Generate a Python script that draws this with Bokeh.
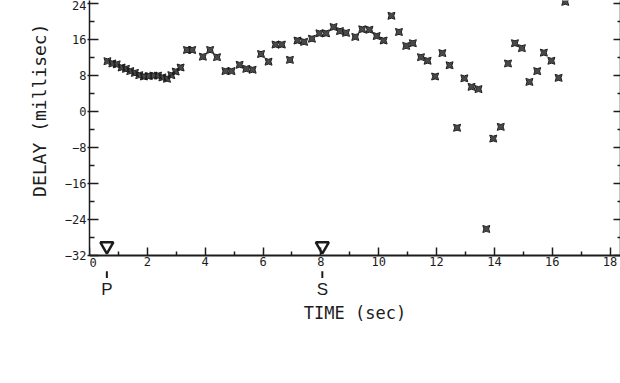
from bokeh.plotting import figure
from bokeh.models import LinearAxis, FixedTicker, Range1d, Title
from bokeh.core.properties import value
from bokeh.embed import file_html
from bokeh.resources import INLINE

# ---- data ----
time_sec = [0.62, 0.79, 0.94, 1.11, 1.26, 1.41, 1.57, 1.72, 1.88, 2.05,
            2.21, 2.37, 2.52, 2.68, 2.83, 2.98, 3.15, 3.37, 3.55, 3.92,
            4.17, 4.41, 4.70, 4.91, 5.19, 5.42, 5.64, 5.93, 6.19, 6.43,
            6.65, 6.93, 7.19, 7.42, 7.69, 7.95, 8.18, 8.44, 8.66, 8.87,
            9.19, 9.43, 9.68, 9.93, 10.17, 10.44, 10.70, 10.95, 11.18, 11.46,
            11.69, 11.95, 12.20, 12.45, 12.71, 12.96, 13.21, 13.45, 13.72, 13.96,
            14.22, 14.47, 14.71, 14.95, 15.21, 15.48, 15.71, 15.97, 16.22, 16.45]
delay_ms = [11.1, 10.6, 10.4, 9.7, 9.4, 8.9, 8.5, 8.0, 7.7, 7.8,
            7.9, 7.9, 7.5, 7.2, 8.0, 8.8, 9.7, 13.6, 13.6, 12.1,
            13.6, 12.0, 8.9, 8.9, 10.3, 9.4, 9.2, 12.7, 11.0, 14.8,
            14.8, 11.4, 15.7, 15.4, 16.1, 17.3, 17.3, 18.7, 17.8, 17.4,
            16.5, 18.2, 18.1, 16.7, 15.7, 21.2, 17.6, 14.5, 15.1, 12.0,
            11.2, 7.7, 12.9, 10.2, -3.7, 7.3, 5.4, 4.9, -26.2, -6.1,
            -3.5, 10.6, 15.1, 14.0, 6.5, 8.9, 13.0, 11.2, 7.4, 24.3]

phase_times = [0.6, 8.05]
phase_names = ["P", "S"]

x_major = [0, 2, 4, 6, 8, 10, 12, 14, 16, 18]
x_minor = [1, 3, 5, 7, 9, 11, 13, 15, 17]
y_major = [-32, -24, -16, -8, 0, 8, 16, 24]
y_minor = [-28, -20, -12, -4, 4, 12, 20]

INK = "#1c1c1c"
MONO = "DejaVu Sans Mono"
Y_TOP = 24.6
Y_AXIS = y_major[0]
X_ORIGIN = x_major[0]

p = figure(width=620, height=322,
           x_range=Range1d(X_ORIGIN, 18.36), y_range=Range1d(-47, Y_TOP),
           output_backend="svg", toolbar_location=None,
           x_axis_location=None, y_axis_location=None,
           min_border_left=89, min_border_right=0,
           min_border_top=0, min_border_bottom=0)
p.outline_line_color = None
p.grid.visible = False
p.background_fill_color = "white"
p.border_fill_color = "white"

def style_ticks(ax):
    ax.axis_line_color = INK
    ax.major_tick_line_color = INK
    ax.minor_tick_line_color = INK
    ax.major_tick_line_width = 1.5
    ax.minor_tick_line_width = 1.5

# time axis, fixed at the bottom of the delay scale
xa = LinearAxis(ticker=FixedTicker(ticks=x_major, minor_ticks=x_minor),
                fixed_location=Y_AXIS, axis_label="TIME (sec)",
                major_label_overrides={X_ORIGIN: ""})
style_ticks(xa)
xa.major_tick_in = 8
xa.major_tick_out = 0
xa.minor_tick_in = 4
xa.minor_tick_out = 0
xa.axis_line_width = 2
xa.major_label_standoff = 2
xa.major_label_text_font = MONO
xa.major_label_text_font_size = "12px"
xa.major_label_text_color = INK
xa.axis_label_text_font = MONO
xa.axis_label_text_font_size = "17px"
xa.axis_label_text_font_style = "normal"
xa.axis_label_text_color = INK
xa.axis_label_standoff = 33
p.add_layout(xa, "below")

# origin label of the time axis (kept inside the frame)
p.text(x=[X_ORIGIN], y=[Y_AXIS], text=[str(X_ORIGIN)],
       text_align="left", text_baseline="top", y_offset=3,
       text_font=value(MONO), text_font_size="12px", text_color=INK)

# delay axis (left)
ya = LinearAxis(ticker=FixedTicker(ticks=y_major, minor_ticks=y_minor),
                bounds=(Y_AXIS, Y_TOP))
style_ticks(ya)
ya.major_tick_in = 9
ya.major_tick_out = 2
ya.minor_tick_in = 5
ya.minor_tick_out = 0
ya.axis_line_width = 1.5
ya.major_label_standoff = 1
ya.major_label_text_font = MONO
ya.major_label_text_font_size = "12px"
ya.major_label_text_color = INK
p.add_layout(ya, "left")

# delay axis title, placed high like the (cropped) original
p.add_layout(Title(text="DELAY (millisec)", align="right", offset=23,
                   text_font=MONO, text_font_size="18px",
                   text_font_style="normal", text_color=INK,
                   standoff=24), "left")

# right axis (ticks only)
ra = LinearAxis(ticker=FixedTicker(ticks=y_major, minor_ticks=y_minor),
                bounds=(Y_AXIS, Y_TOP),
                major_tick_in=7, major_tick_out=0,
                minor_tick_in=3, minor_tick_out=0,
                axis_line_width=1.5,
                major_label_text_color=None, major_label_text_font_size="1px",
                major_label_standoff=0)
style_ticks(ra)
p.add_layout(ra, "right")

# data points
p.scatter(time_sec, delay_ms, marker="square_pin", size=7,
          line_color=INK, line_width=1, fill_color=INK, fill_alpha=0.8)

# phase arrival markers on the time axis
tri_y = [Y_AXIS + 2.0 for _ in phase_times]
p.scatter(phase_times, tri_y, marker="inverted_triangle", size=13,
          line_color=INK, line_width=2.5, fill_color="white")

bar_top = [Y_AXIS - 3.6 for _ in phase_times]
bar_bot = [Y_AXIS - 5.1 for _ in phase_times]
p.segment(x0=phase_times, y0=bar_top, x1=phase_times, y1=bar_bot,
          line_color=INK, line_width=2)
p.text(x=phase_times, y=[Y_AXIS - 7.7 for _ in phase_times], text=phase_names,
       text_align="center", text_baseline="middle",
       text_font=value("Liberation Sans"), text_font_size="17px",
       text_color=INK)

open("out.html", "w").write(file_html(p, INLINE))
